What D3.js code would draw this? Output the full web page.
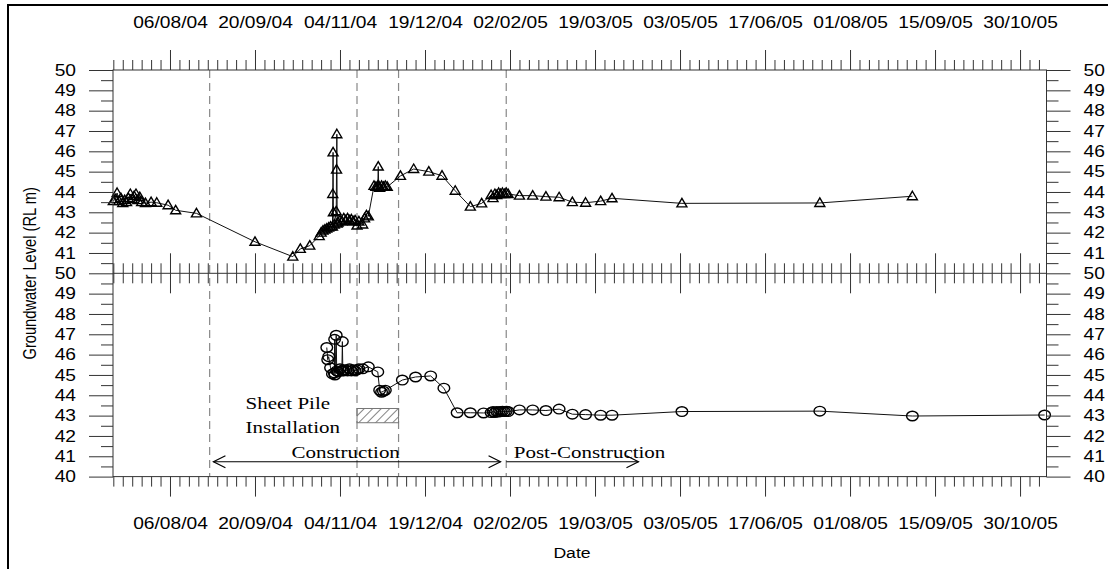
<!DOCTYPE html>
<html><head><meta charset="utf-8">
<script src="https://cdn.jsdelivr.net/npm/d3@7"></script>
<style>body{margin:0;background:#fff}svg{display:block}</style>
</head><body><svg id="c" width="1108" height="569"></svg>
<script>
// ---------------- data ----------------
const xDomain = ["2004-07-06 20", "2005-11-13 00"];
const majorTickStart = "2004-08-06";
const majorStepDays = 45, minorStepDays = 5;
const yDomain = [40, 50];
const yTicksTop = [41,42,43,44,45,46,47,48,49,50];
const yTicksBottom = [40,41,42,43,44,45,46,47,48,49,50];
const yMinor = [40.5,41.5,42.5,43.5,44.5,45.5,46.5,47.5,48.5,49.5];
const eventDates = ["2004-08-27", "2004-11-13", "2004-12-05", "2005-01-31"];
const sheetPileDates = ["2004-11-13", "2004-12-05"];
const sheetPileLevels = [42.65, 43.35];
const constructionArrow = ["2004-08-29", "2005-01-28"];
const postArrow = ["2005-01-31", "2005-04-11"];

const topDates = ["2004-07-07","2004-07-08","2004-07-09","2004-07-10","2004-07-11","2004-07-12","2004-07-13","2004-07-14","2004-07-15","2004-07-16","2004-07-17","2004-07-18","2004-07-19","2004-07-20","2004-07-21","2004-07-22","2004-07-24","2004-07-27","2004-07-30","2004-08-05","2004-08-09","2004-08-20","2004-09-20","2004-10-10","2004-10-14","2004-10-19","2004-10-24","2004-10-25","2004-10-26","2004-10-27","2004-10-28","2004-10-29","2004-10-30","2004-10-31 00","2004-10-31 04","2004-10-31 08","2004-10-31 12","2004-11-01","2004-11-02 00","2004-11-02 04","2004-11-02 08","2004-11-02 12","2004-11-03","2004-11-04","2004-11-05","2004-11-06","2004-11-07","2004-11-08","2004-11-09","2004-11-10","2004-11-11","2004-11-12","2004-11-13","2004-11-14","2004-11-16","2004-11-17","2004-11-18","2004-11-19","2004-11-22","2004-11-23","2004-11-24 00","2004-11-24 06","2004-11-24 12","2004-11-25","2004-11-26","2004-11-27","2004-11-28","2004-11-29","2004-12-06","2004-12-13","2004-12-21","2004-12-28","2005-01-04","2005-01-12","2005-01-18","2005-01-23","2005-01-24","2005-01-25","2005-01-26","2005-01-27","2005-01-28","2005-01-29","2005-01-30","2005-01-31","2005-02-01","2005-02-07","2005-02-14","2005-02-21","2005-02-28","2005-03-07","2005-03-14","2005-03-22","2005-03-28","2005-05-04","2005-07-16","2005-09-03"];
const topValues = [43.55,43.65,43.95,43.55,43.7,43.45,43.6,43.5,43.7,43.9,43.65,43.8,43.9,43.6,43.75,43.5,43.45,43.5,43.47,43.35,43.1,42.95,41.55,40.82,41.2,41.36,41.83,42.0,42.1,42.15,42.2,42.25,42.3,42.3,43.9,45.95,43.0,42.4,43.05,45.1,46.84,42.45,42.5,42.6,42.55,42.7,42.6,42.7,42.6,42.65,42.55,42.6,42.35,42.55,42.4,42.7,42.85,42.8,44.3,44.25,44.3,45.25,44.3,44.2,44.3,44.25,44.3,44.25,44.79,45.13,45.0,44.8,44.06,43.28,43.44,43.85,43.7,43.9,43.85,43.95,43.9,43.95,43.9,43.95,43.9,43.82,43.82,43.77,43.74,43.5,43.47,43.55,43.69,43.44,43.46,43.79];

const bottomDates = ["2004-10-28 00","2004-10-28 12","2004-10-29","2004-10-30","2004-10-31","2004-11-01 00","2004-11-01 04","2004-11-01 08","2004-11-02 00","2004-11-02 06","2004-11-03","2004-11-04","2004-11-05 00","2004-11-05 06","2004-11-05 12","2004-11-06","2004-11-07","2004-11-08","2004-11-09","2004-11-10","2004-11-11","2004-11-12","2004-11-13","2004-11-14","2004-11-16","2004-11-19","2004-11-24","2004-11-25","2004-11-26","2004-11-27","2004-11-28","2004-12-07","2004-12-14","2004-12-22","2004-12-29","2005-01-05","2005-01-12","2005-01-19","2005-01-23","2005-01-24","2005-01-25","2005-01-26","2005-01-27","2005-01-28","2005-01-29","2005-01-30","2005-01-31","2005-02-01","2005-02-07","2005-02-14","2005-02-21","2005-02-28","2005-03-07","2005-03-14","2005-03-22","2005-03-28","2005-05-04","2005-07-16","2005-09-03","2005-11-12"];
const bottomValues = [46.35,45.75,45.9,45.35,45.05,45.1,46.75,45.0,46.95,45.2,45.15,45.3,45.2,46.64,45.25,45.2,45.25,45.2,45.3,45.2,45.25,45.2,45.25,45.3,45.3,45.4,45.15,44.25,44.15,44.2,44.25,44.75,44.9,44.95,44.35,43.14,43.14,43.13,43.15,43.2,43.15,43.2,43.18,43.2,43.22,43.2,43.22,43.2,43.28,43.28,43.25,43.32,43.07,43.05,43.02,43.02,43.2,43.22,42.98,43.03];

// ---------------- layout ----------------
const svg = d3.select("#c");
const L = 113, R = 1046.5, T = 70, M = 273.3, B = 476.6;
const SX = 1.2;
const SANS = "Liberation Sans, Arial, sans-serif";
const SERIF = "Liberation Serif, Times New Roman, serif";
const parseT = d3.timeParse("%Y-%m-%d %H");
const P = s => parseT(s.length === 10 ? s + " 00" : s);

const x = d3.scaleTime().domain(xDomain.map(P)).range([L, R]);
const yT = d3.scaleLinear().domain(yDomain).range([M, T]);
const yB = d3.scaleLinear().domain(yDomain).range([B, M]);

// outer frame
svg.append("rect").attr("x", 8).attr("y", 5).attr("width", 1300).attr("height", 1000)
  .attr("fill", "none").attr("stroke", "#000").attr("stroke-width", 2);

// ticks
const anchor = P(majorTickStart);
const days = d3.timeDay.range(d3.timeDay.ceil(x.domain()[0]), x.domain()[1]);
const md = (n, k) => ((n % k) + k) % k;
const majorTicks = days.filter(d => md(d3.timeDay.count(anchor, d), majorStepDays) === 0);
const minorTicks = days.filter(d => { const n = d3.timeDay.count(anchor, d); return md(n, minorStepDays) === 0 && md(n, majorStepDays) !== 0; });

// dashed event lines
svg.append("g").selectAll("line").data(eventDates.map(P)).join("line")
  .attr("x1", d => x(d)).attr("x2", d => x(d)).attr("y1", T).attr("y2", B)
  .attr("stroke", "#888").attr("stroke-width", 1.2).attr("stroke-dasharray", "8,5");

// sheet pile box
const defs = svg.append("defs");
const pat = defs.append("pattern").attr("id", "hatch").attr("patternUnits", "userSpaceOnUse")
  .attr("width", 6).attr("height", 6).attr("patternTransform", "rotate(45)");
pat.append("line").attr("x1", 0).attr("y1", 0).attr("x2", 0).attr("y2", 6).attr("stroke", "#666").attr("stroke-width", 1.6);
const sp = sheetPileDates.map(P);
svg.append("rect").attr("x", x(sp[0])).attr("y", yB(sheetPileLevels[1]))
  .attr("width", x(sp[1]) - x(sp[0])).attr("height", yB(sheetPileLevels[0]) - yB(sheetPileLevels[1]))
  .attr("fill", "url(#hatch)").attr("stroke", "#777").attr("stroke-width", 1);

// data
const topData = topDates.map((d, i) => ({ date: P(d), v: topValues[i] }));
const botData = bottomDates.map((d, i) => ({ date: P(d), v: bottomValues[i] }));
svg.append("path").datum(topData).attr("fill", "none").attr("stroke", "#111").attr("stroke-width", 1)
  .attr("d", d3.line().x(d => x(d.date)).y(d => yT(d.v)));
svg.append("path").datum(botData).attr("fill", "none").attr("stroke", "#111").attr("stroke-width", 1)
  .attr("d", d3.line().x(d => x(d.date)).y(d => yB(d.v)));
svg.append("g").selectAll("path").data(topData).join("path")
  .attr("d", "M0,-5L5,3.5L-5,3.5Z")
  .attr("transform", d => `translate(${x(d.date)},${yT(d.v)})`)
  .attr("fill", "none").attr("stroke", "#000").attr("stroke-width", 1.4);
svg.append("g").selectAll("ellipse").data(botData).join("ellipse")
  .attr("cx", d => x(d.date)).attr("cy", d => yB(d.v)).attr("rx", 5.8).attr("ry", 4.8)
  .attr("fill", "none").attr("stroke", "#000").attr("stroke-width", 1.4);

// axes
function axis(gen, tx, ty, vals, size, fmt, pad) {
  const a = gen.tickValues(vals).tickSize(size).tickSizeOuter(0).tickPadding(pad || 3).tickFormat(fmt || "");
  const g = svg.append("g").attr("transform", `translate(${tx},${ty})`).call(a);
  g.select(".domain").remove();
  g.selectAll("line").attr("stroke", "#333").attr("stroke-width", 1);
  g.selectAll("text").attr("font-family", SANS).attr("font-size", 16).attr("fill", "#000")
    .each(function () { const t = d3.select(this); t.attr("x", (+t.attr("x") || 0) / SX).attr("transform", `scale(${SX},1)`); });
  return g;
}
const fmtD = d3.timeFormat("%d/%m/%y");
// top
axis(d3.axisTop(x), 0, T, minorTicks, 10);
axis(d3.axisTop(x), 0, T, majorTicks, 20, fmtD, 22);
// separator
axis(d3.axisBottom(x), 0, M, minorTicks, 10);
axis(d3.axisBottom(x), 0, M, majorTicks, 20);
axis(d3.axisTop(x), 0, M, minorTicks, 10);
axis(d3.axisTop(x), 0, M, majorTicks, 20);
// bottom
axis(d3.axisBottom(x), 0, B, minorTicks, 10);
axis(d3.axisBottom(x), 0, B, majorTicks, 20, fmtD, 21);
// left / right
axis(d3.axisLeft(yT), L, 0, yMinor, 12);
axis(d3.axisLeft(yT), L, 0, yTicksTop, 24, d3.format("d"), 13);
axis(d3.axisLeft(yB), L, 0, yMinor, 12);
axis(d3.axisLeft(yB), L, 0, yTicksBottom, 24, d3.format("d"), 13);
axis(d3.axisRight(yT), R, 0, yMinor, 12);
axis(d3.axisRight(yT), R, 0, yTicksTop, 24, d3.format("d"), 13);
axis(d3.axisRight(yB), R, 0, yMinor, 12);
axis(d3.axisRight(yB), R, 0, yTicksBottom, 24, d3.format("d"), 13);

// panel boxes
svg.append("rect").attr("x", L).attr("y", T).attr("width", R - L).attr("height", B - T)
  .attr("fill", "none").attr("stroke", "#333").attr("stroke-width", 1);
svg.append("line").attr("x1", L).attr("x2", R).attr("y1", M).attr("y2", M).attr("stroke", "#333");

// annotations
function stxt(str, px, py, anchorPos, fam, size) {
  svg.append("text").attr("transform", `translate(${px},${py}) scale(${SX},1)`)
    .attr("text-anchor", anchorPos).attr("font-family", fam).attr("font-size", size).attr("fill", "#000").text(str);
}
stxt("Sheet Pile", x(P("2004-09-15")), yB(43.31), "start", SERIF, 17.5);
stxt("Installation", x(P("2004-09-15")), yB(42.16), "start", SERIF, 17.5);
stxt("Construction", x(P("2004-11-07")), yB(40.9), "middle", SERIF, 17.5);
stxt("Post-Construction", x(P("2005-02-04")), yB(40.9), "start", SERIF, 17.5);

const ay = yB(40.73);
const ca = constructionArrow.map(P), pa = postArrow.map(P);
const arrowG = svg.append("g").attr("stroke", "#000").attr("stroke-width", 1.2).attr("fill", "none");
arrowG.append("line").attr("x1", x(ca[0])).attr("x2", x(ca[1])).attr("y1", ay).attr("y2", ay);
arrowG.append("path").attr("d", `M${x(ca[0]) + 12},${ay - 6}L${x(ca[0])},${ay}L${x(ca[0]) + 12},${ay + 6}`);
arrowG.append("path").attr("d", `M${x(ca[1]) - 12},${ay - 6}L${x(ca[1])},${ay}L${x(ca[1]) - 12},${ay + 6}`);
arrowG.append("line").attr("x1", x(pa[0])).attr("x2", x(pa[1])).attr("y1", ay).attr("y2", ay);
arrowG.append("path").attr("d", `M${x(pa[1]) - 12},${ay - 6}L${x(pa[1])},${ay}L${x(pa[1]) - 12},${ay + 6}`);

// axis titles
svg.append("text").attr("transform", `translate(36,${(T + B) / 2}) scale(${SX},1) rotate(-90)`)
  .attr("text-anchor", "middle").attr("font-family", SANS).attr("font-size", 14.7).attr("fill", "#000")
  .text("Groundwater Level (RL m)");
stxt("Date", 572, 558, "middle", SANS, 14.7);
</script></body></html>
